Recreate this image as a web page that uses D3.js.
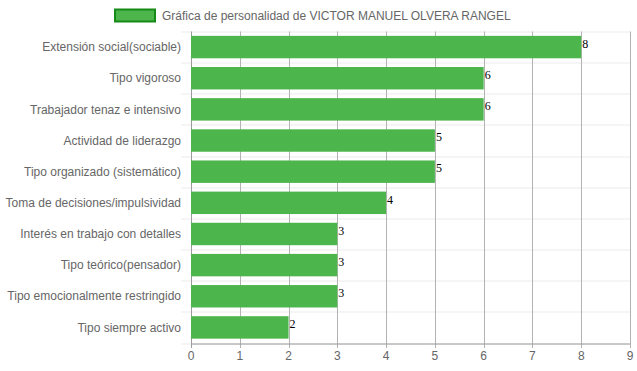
<!DOCTYPE html>
<html>
<head>
<meta charset="utf-8">
<script src="https://cdn.jsdelivr.net/npm/d3@7"></script>
<style>
  body { margin: 0; background: #fff; }
  svg { display: block; font-family: "Liberation Sans", Arial, sans-serif; }
</style>
</head>
<body>
<div id="chart"></div>
<script>
// chart data
const categories = [
  "Extensión social(sociable)",
  "Tipo vigoroso",
  "Trabajador tenaz e intensivo",
  "Actividad de liderazgo",
  "Tipo organizado (sistemático)",
  "Toma de decisiones/impulsividad",
  "Interés en trabajo con detalles",
  "Tipo teórico(pensador)",
  "Tipo emocionalmente restringido",
  "Tipo siempre activo"
];
const values = [8, 6, 6, 5, 5, 4, 3, 3, 3, 2];
const xTicks = [0, 1, 2, 3, 4, 5, 6, 7, 8, 9];
const seriesLabel = "Gráfica de personalidad de VICTOR MANUEL OLVERA RANGEL";

const W = 637, H = 371;
const margin = { top: 31.5, right: 7, bottom: 28, left: 191 };
const width = W - margin.left - margin.right;
const height = H - margin.top - margin.bottom;

const svg = d3.select("#chart").append("svg")
  .attr("width", W)
  .attr("height", H);

const g = svg.append("g")
  .attr("transform", "translate(" + margin.left + "," + margin.top + ")");

const x = d3.scaleLinear().domain([0, 9]).range([0, width]);
const y = d3.scaleBand().domain(categories).range([0, height]);

// horizontal grid (between categories), with small tick marks on the left
const hLines = d3.range(categories.length + 1).map(i => i * y.step());
g.selectAll(".hgrid")
  .data(hLines)
  .join("line")
  .attr("x1", -10).attr("x2", width)
  .attr("y1", d => Math.round(d) + 0.5).attr("y2", d => Math.round(d) + 0.5)
  .attr("stroke", "#ebebeb")
  .attr("stroke-width", 1);

// vertical grid
g.selectAll(".vgrid")
  .data(xTicks)
  .join("line")
  .attr("x1", d => Math.round(x(d)) + 0.5).attr("x2", d => Math.round(x(d)) + 0.5)
  .attr("y1", 0).attr("y2", height + 5)
  .attr("stroke", d => d === 0 ? "#9a9a9a" : "#b3b3b3")
  .attr("stroke-width", 1);

// bars
const barH = y.step() * 0.72;
g.selectAll(".bar")
  .data(values)
  .join("rect")
  .attr("x", 0)
  .attr("y", (d, i) => y(categories[i]) + (y.step() - barH) / 2)
  .attr("width", d => x(d))
  .attr("height", barH)
  .attr("fill", "#4cb54c");

// value labels
g.selectAll(".val")
  .data(values)
  .join("text")
  .attr("x", d => x(d) + 1)
  .attr("y", (d, i) => y(categories[i]) + (y.step() - barH) / 2 + 12)
  .attr("font-family", "Liberation Serif, Times New Roman, serif")
  .attr("font-size", 12)
  .attr("fill", "#000")
  .text(d => d);

// bottom axis line
g.append("line")
  .attr("x1", 0).attr("x2", width)
  .attr("y1", Math.round(height) + 0.5).attr("y2", Math.round(height) + 0.5)
  .attr("stroke", "#9a9a9a");

// x tick labels
g.selectAll(".xt")
  .data(xTicks)
  .join("text")
  .attr("x", d => x(d))
  .attr("y", height + 17)
  .attr("text-anchor", "middle")
  .attr("font-size", 12)
  .attr("fill", "#666")
  .text(d => d);

// category labels
g.selectAll(".yt")
  .data(categories)
  .join("text")
  .attr("x", -10)
  .attr("y", d => y(d) + y.step() / 2)
  .attr("dy", "0.35em")
  .attr("text-anchor", "end")
  .attr("font-size", 12)
  .attr("fill", "#666")
  .text(d => d);

// legend
const legend = svg.append("g").attr("transform", "translate(115,9.5)");
legend.append("rect")
  .attr("x", 0).attr("y", 0)
  .attr("width", 40).attr("height", 12)
  .attr("fill", "#4cb54c")
  .attr("stroke", "#168a16")
  .attr("stroke-width", 2);
legend.append("text")
  .attr("x", 47)
  .attr("y", 6)
  .attr("dy", "0.35em")
  .attr("font-size", 12)
  .attr("fill", "#666")
  .text(seriesLabel);
</script>
</body>
</html>
